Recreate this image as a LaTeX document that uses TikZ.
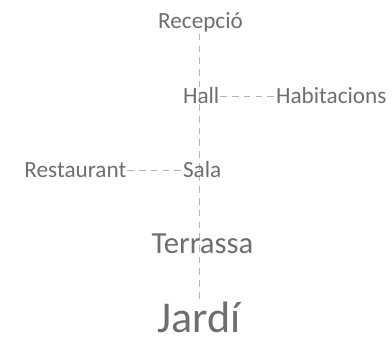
\documentclass[tikz,border=0pt]{standalone}
\usepackage{fontspec}
\setmainfont{Carlito}
\usetikzlibrary{positioning, backgrounds}
\definecolor{roomtext}{HTML}{6E6E6E}
\definecolor{roomline}{HTML}{B4B4B4}

\begin{document}
\begin{tikzpicture}[
    x=0.75pt, y=-0.75pt,
    node distance=0pt and 41pt,
    room/.style={inner sep=0.6pt, text=roomtext, anchor=base, font=\fontsize{17.4}{20}\selectfont},
    bigroom/.style={room, font=\fontsize{23}{26}\selectfont},
    hugeroom/.style={room, font=\fontsize{33}{36}\selectfont},
    link/.style={draw=roomline, line width=0.7pt, dash pattern=on 5pt off 3.8pt},
]
\useasboundingbox (0,0) rectangle (392,338);

% Spine
\node[room] (recepcio) at (200.5,29) {Recepció};
\node[room, anchor=base west] (hall) at (182,104) {Hall};
\node[room, anchor=base west] (sala) at (182,178) {Sala};
\node[bigroom] (terrassa) at (202.5,253) {Terrassa};
\node[hugeroom] (jardi) at (199,332) {Jardí};

% Side rooms
\node[room, right=of hall] (habitacions) {Habitacions};
\node[room, left=of sala] (restaurant) {Restaurant};

% Links
\begin{scope}[on background layer]
\draw[link] ([xshift=-0.5pt]recepcio.south) -- ([xshift=-0.5pt]recepcio.south |- jardi.north);
\end{scope}
\draw[link] (hall) -- (habitacions);
\draw[link] (restaurant) -- (sala);

\end{tikzpicture}
\end{document}
